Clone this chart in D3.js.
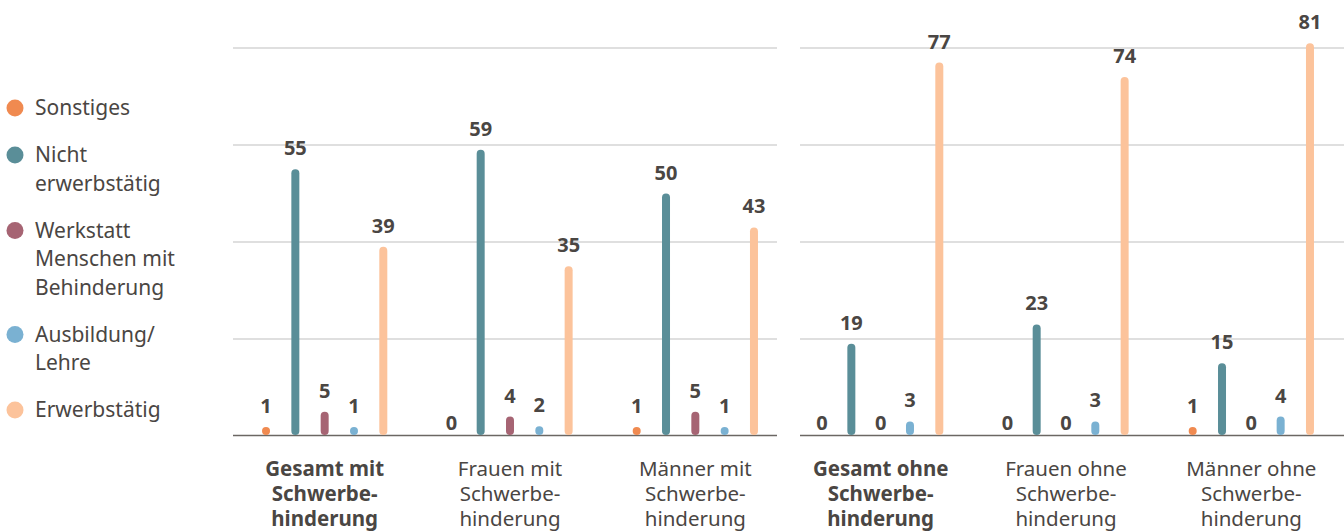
<!DOCTYPE html>
<html>
<head>
    <meta charset="utf-8"/>
    <title>Erwerbssituation</title>
    <style>
        body {
            margin: 0;
            background: #fff;
            font-family: 'Noto Sans', sans-serif;
        }
        svg { display: block; }
        .grid line { stroke: #d4d4d4; stroke-width: 1.5px; }
        .baseline { stroke: #6b6763; stroke-width: 1.5px; }
        .value { font-weight: bold; font-size: 20px; fill: #4a4643; text-anchor: middle; }
        .group-label { font-size: 20.5px; fill: #4a4643; text-anchor: middle; }
        .legend text { font-size: 21px; fill: #4a4643; }
    </style>
    <script src="https://cdnjs.cloudflare.com/ajax/libs/d3/7.8.5/d3.min.js"></script>
</head>
<body>
<svg id="chart" width="1344" height="531"></svg>
<script>

const groups = [
    ['Gesamt mit', 'Schwerbe-', 'hinderung'],
    ['Frauen mit', 'Schwerbe-', 'hinderung'],
    ['Männer mit', 'Schwerbe-', 'hinderung'],
    ['Gesamt ohne', 'Schwerbe-', 'hinderung'],
    ['Frauen ohne', 'Schwerbe-', 'hinderung'],
    ['Männer ohne', 'Schwerbe-', 'hinderung']
];
const boldGroups = [0, 3];

const seriesNames = [
    ['Sonstiges'],
    ['Nicht', 'erwerbstätig'],
    ['Werkstatt', 'Menschen mit', 'Behinderung'],
    ['Ausbildung/', 'Lehre'],
    ['Erwerbstätig']
];
const seriesColors = ['#f08a50', '#5a8e98', '#a66473', '#7ab1d2', '#fcc39b'];

const sonstiges         = [1, 0, 1, 0, 0, 1];
const nichtErwerbstaetig = [55, 59, 50, 19, 23, 15];
const werkstatt         = [5, 4, 5, 0, 0, 0];
const ausbildung        = [1, 2, 1, 3, 3, 4];
const erwerbstaetig     = [39, 35, 43, 77, 74, 81];
const seriesValues = [sonstiges, nichtErwerbstaetig, werkstatt, ausbildung, erwerbstaetig];

const gridTicks = [20, 40, 60, 80];

const svg = d3.select('#chart');

const x0 = d3.scaleBand().domain(d3.range(groups.length)).range([232, 1344]);
const x1 = d3.scaleBand().domain(d3.range(seriesNames.length)).range([-73.3, 73.3]);
const y = d3.scaleLinear().domain([0, 80]).range([436, 48]);

// two panels with separate gridlines
const panels = [[233, 777], [800, 1344]];

const grid = svg.append('g').attr('class', 'grid');
panels.forEach(p => {
    grid.selectAll(null)
        .data(gridTicks)
        .enter().append('line')
        .attr('x1', p[0]).attr('x2', p[1])
        .attr('y1', d => y(d)).attr('y2', d => y(d));
    svg.append('line')
        .attr('class', 'baseline')
        .attr('x1', p[0]).attr('x2', p[1])
        .attr('y1', 435.5).attr('y2', 435.5);
});

// flatten into bars
const bars = [];
groups.forEach((g, gi) => {
    seriesValues.forEach((vals, si) => {
        bars.push({ group: gi, series: si, value: vals[gi] });
    });
});

const barX = d => x0(d.group) + x0.bandwidth() / 2 + x1(d.series) + x1.bandwidth() / 2;
const base = y(0) - 5;
const topOf = d => Math.min(y(d.value) + 4, base);

svg.append('g').selectAll('line')
    .data(bars.filter(d => d.value > 0))
    .enter().append('line')
    .attr('x1', barX).attr('x2', barX)
    .attr('y1', base)
    .attr('y2', topOf)
    .attr('stroke', d => seriesColors[d.series])
    .attr('stroke-width', 8)
    .attr('stroke-linecap', 'round');

svg.append('g').selectAll('text')
    .data(bars)
    .enter().append('text')
    .attr('class', 'value')
    .attr('x', barX)
    .attr('y', d => d.value > 0 ? topOf(d) - 18 : y(0) - 6)
    .text(d => d.value);

// group labels
const gl = svg.append('g');
groups.forEach((lines, gi) => {
    const t = gl.append('text')
        .attr('class', 'group-label')
        .attr('x', x0(gi) + x0.bandwidth() / 2)
        .attr('y', 476)
        .style('font-weight', boldGroups.includes(gi) ? 'bold' : 'normal');
    lines.forEach((l, i) => {
        t.append('tspan')
            .attr('x', x0(gi) + x0.bandwidth() / 2)
            .attr('dy', i === 0 ? 0 : 25)
            .text(l);
    });
});

// legend
const legend = svg.append('g').attr('class', 'legend');
let ly = 108;
seriesNames.forEach((lines, si) => {
    legend.append('circle')
        .attr('cx', 15).attr('cy', ly)
        .attr('r', 8.5)
        .attr('fill', seriesColors[si]);
    const t = legend.append('text').attr('x', 35).attr('y', ly + 7);
    lines.forEach((l, i) => {
        t.append('tspan').attr('x', 35).attr('dy', i === 0 ? 0 : 28.5).text(l);
    });
    ly += lines.length * 28.5 + 18.5;
});

</script>
</body>
</html>
